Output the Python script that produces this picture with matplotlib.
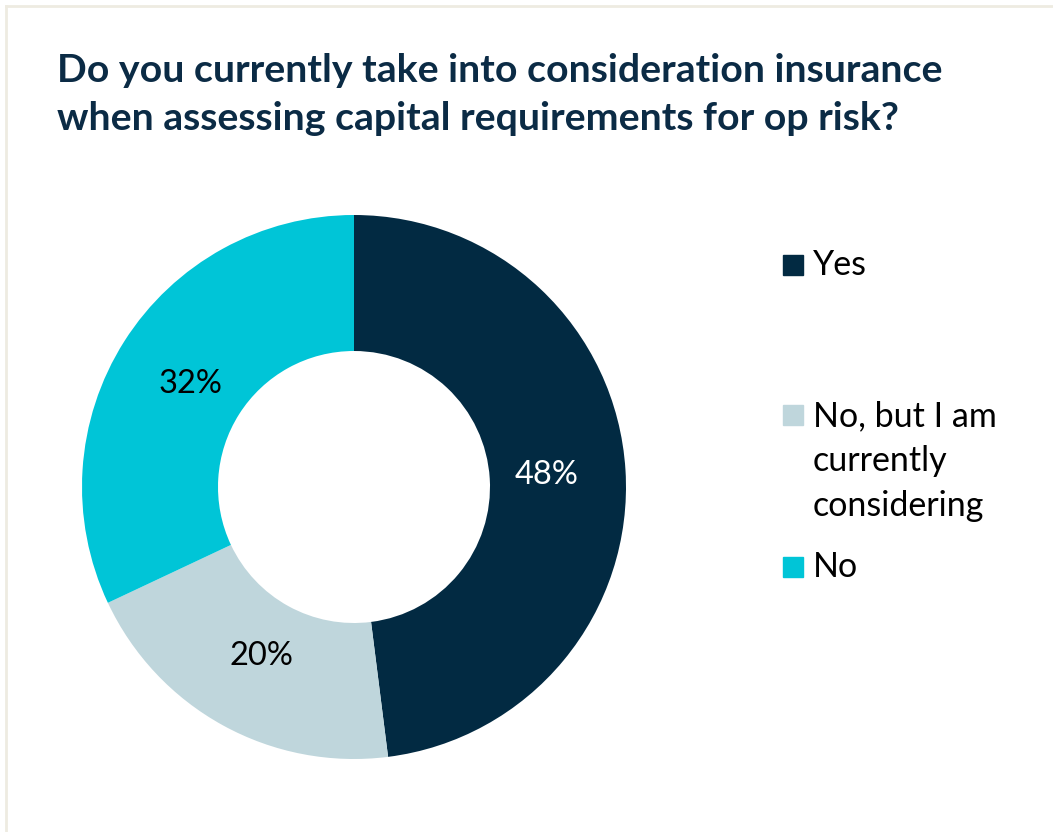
import matplotlib.pyplot as plt
from matplotlib.patches import Rectangle
from matplotlib.lines import Line2D

title_lines = ['Do you currently take into consideration insurance',
               'when assessing capital requirements for op risk?']
categories = ['Yes', 'No, but I am\ncurrently\nconsidering', 'No']
shares = [48, 20, 32]
colors = ['#022a42', '#bfd6dc', '#00c5d7']

plt.rcParams['font.family'] = ['Lato', 'DejaVu Sans']

W, H = 1053, 832
fig = plt.figure(figsize=(W / 100, H / 100), dpi=100)
fig.patch.set_facecolor('white')

# thin frame along the top and left edge
fig.add_artist(Line2D([6 / W, 1], [1 - 6 / H, 1 - 6 / H], color='#eeebe1', lw=2))
fig.add_artist(Line2D([6 / W, 6 / W], [0, 1 - 6 / H], color='#eeebe1', lw=2))

for line, base in zip(title_lines, [82, 130]):
    fig.text(57 / W, 1 - base / H, line, fontsize=28.3, fontweight='bold',
             color='#0b2b45', va='baseline', ha='left')

cx, cy, r = 354, 487, 272
ax = fig.add_axes([(cx - r) / W, (H - cy - r) / H, 2 * r / W, 2 * r / H])
wedges, texts, pcts = ax.pie(shares, colors=colors, startangle=90, counterclock=False,
                             radius=1, wedgeprops=dict(width=0.5, linewidth=0),
                             autopct='%d%%', pctdistance=0.71)
for t, c in zip(pcts, ['white', 'black', 'black']):
    t.set_color(c)
    t.set_fontsize(23.5)
ax.set_xlim(-1, 1)
ax.set_ylim(-1, 1)
ax.set_aspect('equal')
ax.axis('off')

# legend entries, swatch lined up with the first text line
line_h = 46
legend_y = [265, 415, 567]
for label, col, y in zip(categories, colors, legend_y):
    fig.add_artist(Rectangle((783 / W, 1 - (y + 10) / H), 20 / W, 20 / H,
                             color=col, transform=fig.transFigure))
    n = label.count('\n')
    fig.text(813 / W, 1 - (y + n * line_h / 2) / H, label, fontsize=24.5,
             color='black', va='center', ha='left', linespacing=1.5)

fig.savefig('out.png', dpi=100)
